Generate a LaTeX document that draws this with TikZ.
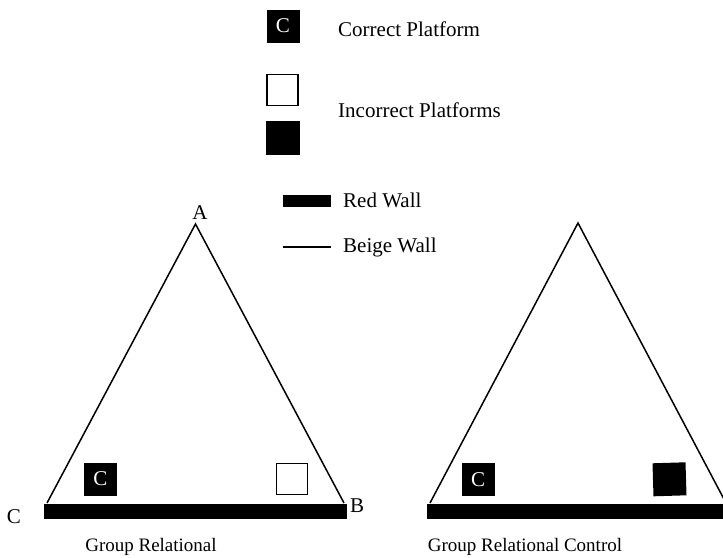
\documentclass[tikz,border=0pt]{standalone}
\usepackage{fontspec}
\setmainfont{Liberation Serif}
\begin{document}
\begin{tikzpicture}[x=1pt,y=-1pt,
  txt/.style={font=\fontsize{21}{25}\selectfont, inner sep=0pt},
  lbl/.style={font=\fontsize{19}{23}\selectfont, inner sep=0pt},
  cbox/.style={fill=black, text=white, minimum size=33pt, inner sep=0pt, font=\fontsize{21}{25}\selectfont},
  wbox/.style={draw=black, line width=1.4pt, fill=white, minimum size=31pt, inner sep=0pt},
  bbox/.style={fill=black, minimum size=34pt, inner sep=0pt},
  wall/.style={line width=1.5pt},
  redwall/.style={line width=15pt}]
\useasboundingbox (0,0) rectangle (723,557);
\clip (0,0) rectangle (723,557);
% legend
\node[cbox] (lc) at (283,26) {C};
\node[txt, anchor=west] (lct) at (338,29) {Correct Platform};
\node[wbox] (lw) at (282.5,90) {};
\node[bbox] (lb) at (283,137.5) {};
\node[txt, anchor=west] (lit) at (338,110) {Incorrect Platforms};
\coordinate (rw1) at (283,201);
\coordinate (rw2) at (331,201);
\draw[line width=12pt] (rw1) -- (rw2);
\node[txt, anchor=west] (rwt) at (343,200) {Red Wall};
\coordinate (bw1) at (283,247);
\coordinate (bw2) at (331,247);
\draw[line width=1.2pt] (bw1) -- (bw2);
\node[txt, anchor=west] (bwt) at (343,247) {Beige Wall};
% left triangle
\coordinate (A1) at (195.5,224);
\coordinate (L1) at (47,503);
\coordinate (R1) at (344,503);
\draw[wall, line join=miter] (L1) -- (A1) -- (R1);
\coordinate (bl1) at (44,511);
\coordinate (br1) at (347,511);
\draw[redwall] (bl1) -- (br1);
\node[txt] (la) at (200,213) {A};
\node[txt] (lcl) at (14,517) {C};
\node[txt] (lbl) at (357,506) {B};
\node[cbox] (c1) at (100.5,479) {C};
\node[wbox] (w1) at (292,479) {};
\node[lbl] (g1) at (151,547) {Group Relational};
% right triangle
\coordinate (A2) at (578,223);
\coordinate (L2) at (430,503);
\coordinate (R2) at (726,503);
\draw[wall, line join=miter] (L2) -- (A2) -- (R2);
\coordinate (bl2) at (427,511);
\coordinate (br2) at (730,511);
\draw[redwall] (bl2) -- (br2);
\node[cbox] (c2) at (478,479.5) {C};
\fill (652.5,463.3) -- (685.5,462.3) -- (686.5,495.3) -- (653.5,496.3) -- cycle;
\node[lbl] (g2) at (525,547) {Group Relational Control};
\end{tikzpicture}
\end{document}
